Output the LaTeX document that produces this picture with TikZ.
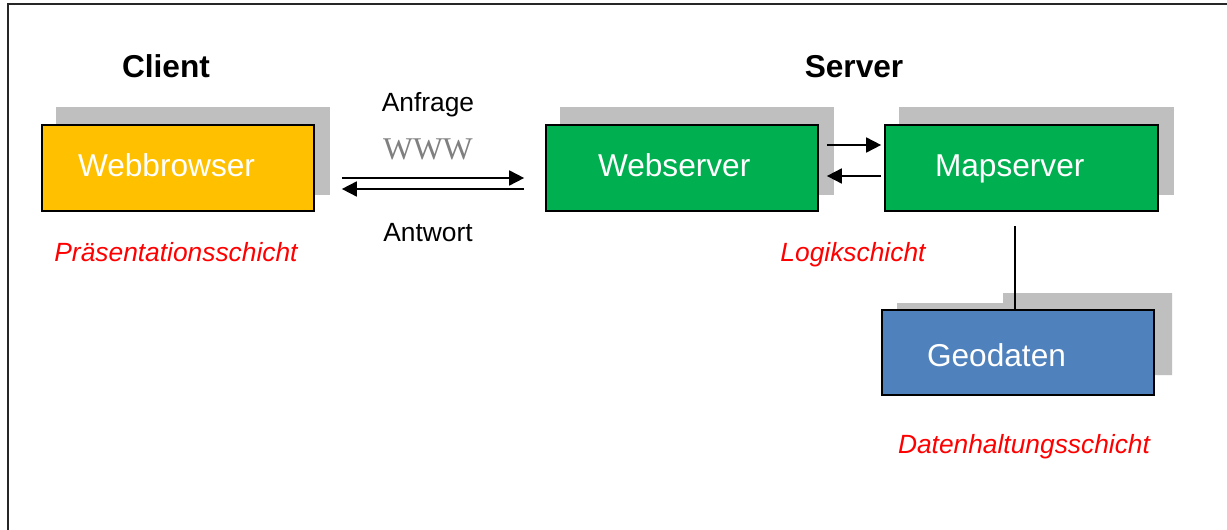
\documentclass[tikz,border=0pt]{standalone}
\usepackage{fontspec}
\setmainfont{Liberation Sans}
\newfontfamily\wwwfont{Liberation Serif}
\usetikzlibrary{arrows.meta,backgrounds}
\definecolor{browserorange}{HTML}{FFC000}
\definecolor{servergreen}{HTML}{00B050}
\definecolor{datablue}{HTML}{4F81BD}
\definecolor{shadowgray}{HTML}{BFBFBF}
\begin{document}
\begin{tikzpicture}[x=0.02cm, y=-0.02cm,
    box/.style={draw, line width=1pt, minimum width=5.44cm, minimum height=1.72cm,
      text=white, font=\fontsize{18}{22}\selectfont, align=left,
      text height=0.46cm, text depth=0.1cm},
    headline/.style={anchor=base, font=\fontsize{18}{22}\selectfont\bfseries},
    msglabel/.style={anchor=base, font=\fontsize{15}{18}\selectfont},
    tiername/.style={anchor=base, text=red, font=\fontsize{15}{18}\selectfont\itshape},
    msgarrow/.style={line width=1pt, -{Triangle[length=0.3cm, width=0.3cm]}}]
  \useasboundingbox (0,0) rectangle (1227,530);
  \draw[line width=1pt, black!85] (8,530) -- (8,4) -- (1227,4);

  % client side
  \node[headline] (client) at (166,78) {Client};
  \node[box, fill=browserorange, inner xsep=0.72cm, text width=4cm] (browser) at (178,168) {Webbrowser};
  \node[tiername] (praes) at (176,261) {Präsentationsschicht};

  % server side
  \node[headline] (server) at (854,78) {Server};
  \node[box, fill=servergreen, inner xsep=1.04cm, text width=3.36cm] (websrv) at (682,168) {Webserver};
  \node[box, fill=servergreen, minimum width=5.46cm, inner xsep=1cm, text width=3.46cm] (mapsrv) at (1021.5,168) {Mapserver};
  \node[tiername] (logik) at (853,261) {Logikschicht};
  \node[box, fill=datablue, minimum height=1.7cm, inner xsep=0.9cm, text width=3.64cm,
    text height=0.66cm] (geo) at (1018,352.5) {Geodaten};
  \node[tiername] (daten) at (1024,453) {Datenhaltungsschicht};

  % request / response
  \node[msglabel] (anfrage) at (428,112) {Anfrage};
  \node[msglabel, font=\fontsize{18}{22}\selectfont\wwwfont, text=black!50] (www) at (428,160) {WWW};
  \node[msglabel] (antwort) at (428,242) {Antwort};
  \draw[msgarrow, shorten <=0.54cm, shorten >=0.42cm] ([yshift=-0.2cm]browser.east) -- ([yshift=-0.2cm]websrv.west);
  \draw[msgarrow, shorten <=0.42cm, shorten >=0.54cm] ([yshift=-0.42cm]websrv.west) -- ([yshift=-0.42cm]browser.east);

  \draw[msgarrow, shorten <=0.16cm, shorten >=0.06cm] ([yshift=0.46cm]websrv.east) -- ([yshift=0.46cm]mapsrv.west);
  \draw[msgarrow, shorten <=0.06cm, shorten >=0.16cm] ([yshift=-0.16cm]mapsrv.west) -- ([yshift=-0.16cm]websrv.east);
  \draw[line width=1pt, shorten >=0.28cm] ([xshift=-0.06cm]geo.north) -- ([xshift=-0.06cm]geo.north |- mapsrv.south);

  % shadows
  \begin{scope}[on background layer]
    \fill[white] (0,0) rectangle (1227,530);
    \foreach \n in {browser, websrv, mapsrv}
      \fill[shadowgray] ([shift={(15,-17)}]\n.south west) rectangle ([shift={(15,-17)}]\n.north east);
    \fill[shadowgray] (897,375) -- (897,303) -- (1003,303) -- (1003,293) -- (1172,293) -- (1172,375) -- cycle;
  \end{scope}
\end{tikzpicture}
\end{document}
